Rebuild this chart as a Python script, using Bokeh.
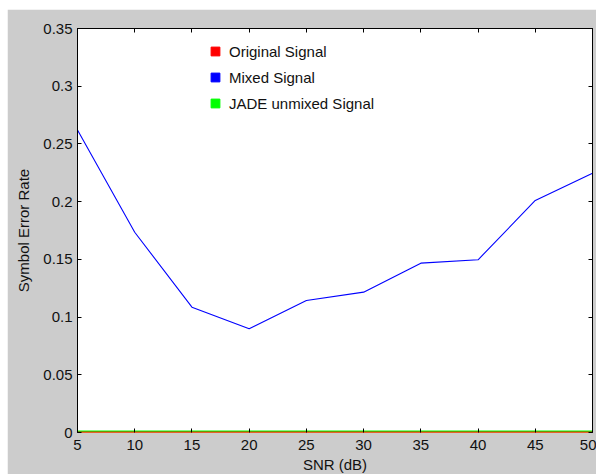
from bokeh.plotting import figure
from bokeh.models import Range1d, LinearAxis, FixedTicker, Legend, LegendItem, ColumnDataSource
from bokeh.embed import file_html
from bokeh.resources import INLINE

snr = [5, 10, 15, 20, 25, 30, 35, 40, 45, 50]
ser_original = [0, 0, 0, 0, 0, 0, 0, 0, 0, 0]
ser_mixed = [0.262, 0.1735, 0.1086, 0.0898, 0.1144, 0.1216, 0.1467, 0.1496, 0.201, 0.2247]
ser_jade = [0, 0, 0, 0, 0, 0, 0, 0, 0, 0]

xticks = [5, 10, 15, 20, 25, 30, 35, 40, 45, 50]
yticks = [0, 0.05, 0.1, 0.15, 0.2, 0.25, 0.3, 0.35]
ytick_labels = ["0", "0.05", "0.1", "0.15", "0.2", "0.25", "0.3", "0.35"]

series_names = ["Original Signal", "Mixed Signal", "JADE unmixed Signal"]
series_colors = ["#ff0000", "#0000ff", "#00ff00"]

FONT = "Liberation Sans"
GRAY = "#cccccc"

p = figure(frame_width=515, frame_height=404, output_backend="svg", toolbar_location=None,
           x_range=Range1d(5, 50), y_range=Range1d(0, 0.35),
           min_border_left=70, min_border_right=4, min_border_top=19, min_border_bottom=40,
           background_fill_color="white", border_fill_color=GRAY,
           outline_line_color="black", outline_line_width=1)
p.margin = (9, 0, 0, 7)
p.grid.visible = False

src = ColumnDataSource(dict(x=snr, orig=ser_original, mixed=ser_mixed, jade=ser_jade))
p.line("x", "jade", source=src, line_color=series_colors[2], line_width=4)
p.line("x", "orig", source=src, line_color=series_colors[0], line_width=2, line_alpha=0.75)
p.line("x", "mixed", source=src, line_color=series_colors[1], line_width=1.1)

# axes styling
for ax in p.xaxis + p.yaxis:
    ax.axis_line_color = "black"
    ax.major_tick_line_color = "black"
    ax.major_tick_in = 4
    ax.major_tick_out = 0
    ax.minor_tick_line_color = None
    ax.major_label_text_font = FONT
    ax.major_label_text_font_size = "15px"
    ax.major_label_text_color = "#111111"
    ax.axis_label_text_font = FONT
    ax.axis_label_text_font_size = "15px"
    ax.axis_label_text_font_style = "normal"
    ax.axis_label_text_color = "#111111"

p.xaxis.axis_line_color = "#e8602a"
p.xaxis.ticker = FixedTicker(ticks=xticks)
p.yaxis.ticker = FixedTicker(ticks=yticks)
p.yaxis.major_label_overrides = {t: l for t, l in zip(yticks, ytick_labels)}
p.xaxis.axis_label = "SNR (dB)"
p.yaxis.axis_label = "Symbol Error Rate"
p.xaxis.major_label_standoff = 7
p.yaxis.major_label_standoff = 5
p.xaxis.axis_label_standoff = 3
p.yaxis.axis_label_standoff = 8

# top/right tick-only axes (box on)
top = LinearAxis(ticker=FixedTicker(ticks=xticks), major_label_overrides={t: "" for t in xticks})
right = LinearAxis(ticker=FixedTicker(ticks=yticks), major_label_overrides={t: "" for t in yticks})
for ax in (top, right):
    ax.axis_line_color = "black"
    ax.major_tick_line_color = "black"
    ax.major_tick_in = 4
    ax.major_tick_out = 0
    ax.minor_tick_line_color = None
    ax.major_label_standoff = 0
    ax.major_label_text_font_size = "1px"
p.add_layout(top, "above")
p.add_layout(right, "right")

# legend with square swatches
nan = float("nan")
items = []
for name, col in zip(series_names, series_colors):
    r = p.scatter(x=[nan], y=[nan], marker="square", size=9, fill_color=col, line_color=col)
    items.append(LegendItem(label=name, renderers=[r]))
leg = Legend(items=items, location=(127, 318), border_line_color=None,
             background_fill_alpha=0, padding=0, margin=0, spacing=4,
             label_height=22, glyph_height=22, glyph_width=22, label_standoff=3,
             label_text_font=FONT, label_text_font_size="15px", label_text_color="#111111")
p.add_layout(leg, "center")

open("out.html", "w").write(file_html(p, INLINE))
